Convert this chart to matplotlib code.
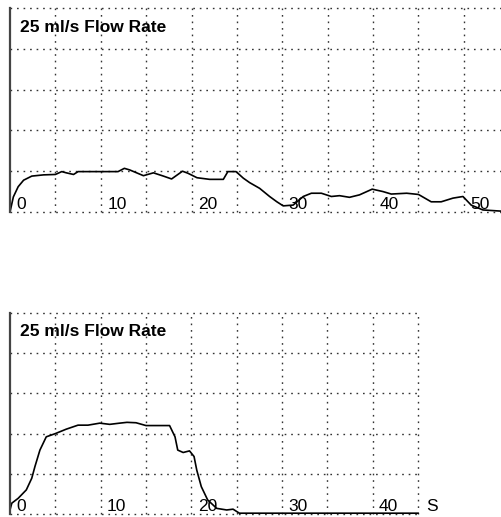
import numpy as np
import matplotlib.pyplot as plt

plt.rcParams['font.family'] = ['Liberation Sans', 'DejaVu Sans']

# top trace (time in s, flow in grid units)
t_top = [0, 0.37, 0.9, 1.5, 2.4, 3.7, 5.0, 5.7, 6.2, 7.0, 7.5, 9.9, 11.9, 12.6, 13.2,
         14.7, 15.8, 16.9, 17.8, 19.0, 19.6, 20.6, 22.0, 23.5, 24.0, 24.9, 25.7, 26.4,
         27.5, 28.6, 29.4, 30.1, 31.2, 32.3, 33.2, 34.3, 35.4, 36.3, 37.4, 38.5, 39.9,
         41.1, 42.0, 43.7, 45.0, 46.4, 47.5, 48.8, 49.9, 50.8, 52.1, 54.2]
v_top = [0, 0.37, 0.62, 0.78, 0.88, 0.91, 0.92, 0.99, 0.96, 0.92, 0.99, 0.99, 0.99, 1.07, 1.03,
         0.89, 0.96, 0.88, 0.81, 1.0, 0.95, 0.84, 0.80, 0.80, 0.99, 0.99, 0.83, 0.72,
         0.58, 0.38, 0.25, 0.15, 0.17, 0.38, 0.46, 0.46, 0.38, 0.40, 0.36, 0.42, 0.56,
         0.50, 0.44, 0.46, 0.43, 0.25, 0.25, 0.34, 0.38, 0.17, 0.05, 0.02]

# bottom trace
t_bot = [0, 0.2, 0.9, 1.8, 2.4, 2.75, 3.3, 4.0, 5.0, 6.2, 7.5, 8.6, 9.9, 11.0, 12.1, 12.9,
         13.9, 15.0, 17.6, 18.2, 18.5, 19.1, 19.8, 20.3, 20.6, 21.1, 21.8, 22.8, 23.9,
         24.6, 25.3, 45.0]
v_bot = [0.1, 0.27, 0.39, 0.60, 0.89, 1.18, 1.59, 1.92, 2.0, 2.11, 2.21, 2.21, 2.26, 2.23, 2.26, 2.28,
         2.27, 2.20, 2.20, 1.92, 1.59, 1.53, 1.57, 1.43, 1.09, 0.68, 0.35, 0.14, 0.10,
         0.12, 0.02, 0.02]

title = '25 ml/s Flow Rate'
top_ticks = [0, 10, 20, 30, 40, 50]
bot_ticks = [0, 10, 20, 30, 40]

W, H = 502, 517
fig = plt.figure(figsize=(W / 100, H / 100), dpi=100)

ax1 = fig.add_axes([10 / W, (H - 212) / H, 492 / W, 204 / H])
ax2 = fig.add_axes([10 / W, (H - 514) / H, 408 / W, 201 / H])

grid_kw = dict(color='#333333', linewidth=1.0, linestyle=(0, (1.2, 3.5)))

for ax, t, v, xmax, ticks in [(ax1, t_top, v_top, 54.2, top_ticks),
                              (ax2, t_bot, v_bot, 45, bot_ticks)]:
    ax.set_xlim(0, xmax)
    ax.set_ylim(0, 5)
    for s in ['top', 'right', 'bottom']:
        ax.spines[s].set_visible(False)
    ax.spines['left'].set_color('#444444')
    ax.spines['left'].set_linewidth(1.6)
    ax.set_xticks([])
    ax.set_yticks([])
    for yy in range(0, 6):
        ax.axhline(yy, clip_on=False, **grid_kw)
    for xx in np.arange(5, xmax + 0.01, 5):
        ax.axvline(xx, clip_on=False, **grid_kw)
    ax.plot(t, v, color='black', linewidth=1.2, clip_on=False)
    for tk in ticks:
        ax.text(tk + 0.7, 0.08, str(tk), fontsize=12.5, ha='left', va='baseline')
    ax.text(1.1, 4.42, title, fontsize=12.5, fontweight='bold', ha='left', va='baseline')

ax2.text(45.9, 0.08, 'S', fontsize=12.5, ha='left', va='baseline', clip_on=False)

fig.savefig('out.png', dpi=100)
